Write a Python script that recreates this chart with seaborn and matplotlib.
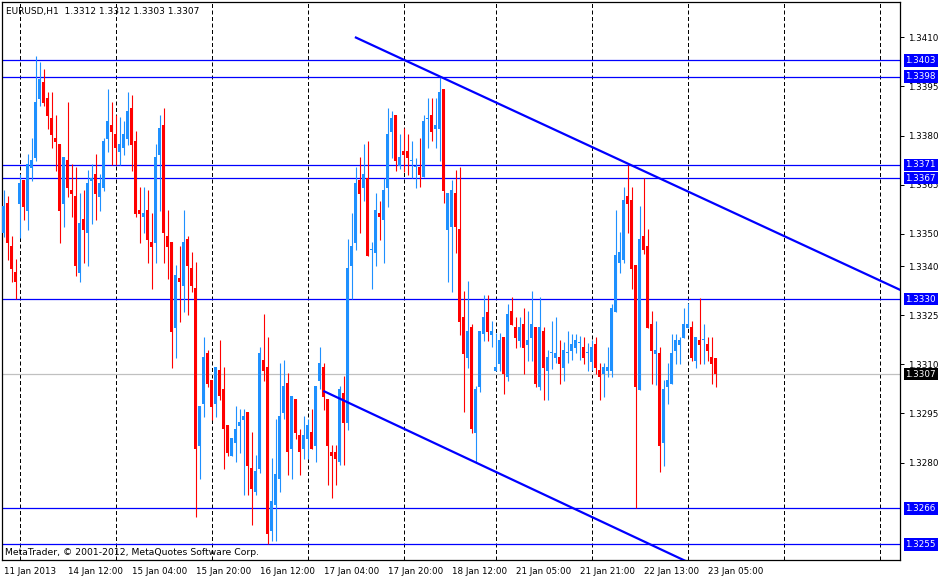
import numpy as np
import pandas as pd
import matplotlib
matplotlib.use('Agg')
import matplotlib.pyplot as plt
import seaborn as sns

# EURUSD H1 candles (bar 0 = 11 Jan 2013 evening)
open_ = [1.33503, 1.33594, 1.33462, 1.33383, 1.33591, 1.33664, 1.33569, 1.33702, 1.33731, 1.33912,
         1.33964, 1.33915, 1.33854, 1.33792, 1.33774, 1.33591, 1.33725, 1.33633, 1.33615, 1.33380,
         1.33545, 1.33502, 1.33661, 1.33682, 1.33612, 1.33640, 1.33789, 1.33832, 1.33805, 1.33750,
         1.33762, 1.33790, 1.33884, 1.33783, 1.33572, 1.33552, 1.33572, 1.33474, 1.33472, 1.33741,
         1.33832, 1.33493, 1.33474, 1.33212, 1.33364, 1.33341, 1.33484, 1.33395, 1.33334, 1.32852,
         1.32980, 1.33135, 1.33052, 1.32980, 1.33083, 1.33025, 1.32915, 1.32821, 1.32861, 1.32913,
         1.32931, 1.32954, 1.32783, 1.32711, 1.32781, 1.33114, 1.33092, 1.32592, 1.32671, 1.32751,
         1.32951, 1.33043, 1.32842, 1.32994, 1.32884, 1.32842, 1.32873, 1.32893, 1.32852, 1.33050,
         1.33092, 1.32995, 1.32832, 1.32832, 1.32803, 1.33012, 1.32922, 1.33402, 1.33472, 1.33664,
         1.33640, 1.33670, 1.33451, 1.33442, 1.33563, 1.33543, 1.33641, 1.33812, 1.33863, 1.33707,
         1.33753, 1.33753, 1.33722, 1.33704, 1.33704, 1.33673, 1.33852, 1.33863, 1.33821, 1.33821,
         1.33942, 1.33512, 1.33521, 1.33624, 1.33514, 1.33245, 1.33121, 1.33214, 1.32891, 1.33032,
         1.33192, 1.33260, 1.33190, 1.33080, 1.33101, 1.33184, 1.33062, 1.33263, 1.33214, 1.33172,
         1.33224, 1.33159, 1.33181, 1.33214, 1.33031, 1.33202, 1.33080, 1.33134, 1.33120, 1.33123,
         1.33089, 1.33134, 1.33141, 1.33150, 1.33165, 1.33153, 1.33134, 1.33107, 1.33162, 1.33083,
         1.33071, 1.33080, 1.33080, 1.33261, 1.33410, 1.33419, 1.33615, 1.33603, 1.33404, 1.33023,
         1.33493, 1.33462, 1.33224, 1.33132, 1.33135, 1.32860, 1.33031, 1.33040, 1.33141, 1.33159,
         1.33181, 1.33211, 1.33214, 1.33110, 1.33175, 1.33174, 1.33163, 1.33123, 1.33120]
high = [1.33633, 1.33615, 1.33493, 1.33422, 1.33682, 1.33664, 1.33744, 1.33792, 1.34043, 1.34025,
        1.34003, 1.33933, 1.33933, 1.33863, 1.33774, 1.33734, 1.33903, 1.33713, 1.33704, 1.33624,
        1.33633, 1.33695, 1.33713, 1.33744, 1.33682, 1.33792, 1.33942, 1.33903, 1.33863, 1.33857,
        1.33844, 1.33933, 1.33924, 1.33814, 1.33643, 1.33643, 1.33633, 1.33563, 1.33775, 1.33863,
        1.33884, 1.33572, 1.33474, 1.33404, 1.33462, 1.33572, 1.33493, 1.33444, 1.33413, 1.32973,
        1.33184, 1.33144, 1.33052, 1.33092, 1.33175, 1.33092, 1.32915, 1.32875, 1.32973, 1.32964,
        1.32964, 1.32954, 1.32893, 1.32823, 1.33153, 1.33254, 1.33184, 1.32814, 1.32933, 1.33104,
        1.33114, 1.33074, 1.33003, 1.32994, 1.32903, 1.32942, 1.32934, 1.32964, 1.33034, 1.33153,
        1.33104, 1.32995, 1.32854, 1.32854, 1.33034, 1.33065, 1.33484, 1.33563, 1.33704, 1.33734,
        1.33774, 1.33783, 1.33475, 1.33624, 1.33600, 1.33670, 1.33884, 1.33875, 1.33863, 1.33805,
        1.33823, 1.33805, 1.33783, 1.33730, 1.33792, 1.33863, 1.33915, 1.33915, 1.33915, 1.33982,
        1.33942, 1.33624, 1.33664, 1.33695, 1.33704, 1.33323, 1.33355, 1.33225, 1.33034, 1.33202,
        1.33312, 1.33312, 1.33233, 1.33196, 1.33196, 1.33184, 1.33285, 1.33306, 1.33245, 1.33245,
        1.33272, 1.33263, 1.33325, 1.33214, 1.33306, 1.33214, 1.33144, 1.33233, 1.33245, 1.33175,
        1.33169, 1.33202, 1.33193, 1.33193, 1.33187, 1.33184, 1.33166, 1.33175, 1.33184, 1.33104,
        1.33104, 1.33153, 1.33285, 1.33572, 1.33505, 1.33643, 1.33710, 1.33643, 1.33404, 1.33584,
        1.33670, 1.33514, 1.33263, 1.33233, 1.33153, 1.33052, 1.33104, 1.33193, 1.33193, 1.33184,
        1.33273, 1.33288, 1.33233, 1.33184, 1.33304, 1.33224, 1.33184, 1.33184, 1.33120]
low = [1.33491, 1.33419, 1.33352, 1.33300, 1.33488, 1.33542, 1.33511, 1.33662, 1.33722, 1.33890,
       1.33890, 1.33820, 1.33762, 1.33692, 1.33471, 1.33520, 1.33612, 1.33551, 1.33370, 1.33352,
       1.33410, 1.33401, 1.33529, 1.33542, 1.33569, 1.33630, 1.33750, 1.33710, 1.33710, 1.33710,
       1.33740, 1.33772, 1.33693, 1.33552, 1.33472, 1.33503, 1.33411, 1.33332, 1.33411, 1.33570,
       1.33411, 1.33362, 1.33090, 1.33121, 1.33231, 1.33261, 1.33252, 1.33322, 1.32632, 1.32751,
       1.32940, 1.33032, 1.32931, 1.32940, 1.32992, 1.32781, 1.32821, 1.32821, 1.32803, 1.32830,
       1.32702, 1.32702, 1.32610, 1.32702, 1.32767, 1.33050, 1.32550, 1.32561, 1.32561, 1.32711,
       1.32934, 1.32763, 1.32751, 1.32873, 1.32763, 1.32812, 1.32812, 1.32842, 1.32803, 1.33026,
       1.32961, 1.32732, 1.32692, 1.32732, 1.32791, 1.32791, 1.32900, 1.33301, 1.33451, 1.33503,
       1.33601, 1.33433, 1.33332, 1.33402, 1.33481, 1.33411, 1.33582, 1.33731, 1.33693, 1.33698,
       1.33688, 1.33679, 1.33670, 1.33641, 1.33643, 1.33673, 1.33762, 1.33784, 1.33763, 1.33723,
       1.33594, 1.33353, 1.33322, 1.33442, 1.33191, 1.32956, 1.33090, 1.32891, 1.32803, 1.33017,
       1.33173, 1.33172, 1.33153, 1.33080, 1.33080, 1.33010, 1.33049, 1.33221, 1.33150, 1.33153,
       1.33071, 1.33111, 1.33111, 1.33031, 1.33022, 1.32991, 1.32991, 1.33086, 1.33104, 1.33040,
       1.33049, 1.33104, 1.33114, 1.33135, 1.33114, 1.33101, 1.33080, 1.33083, 1.33071, 1.32991,
       1.33000, 1.33062, 1.33062, 1.33261, 1.33379, 1.33410, 1.33502, 1.33331, 1.32660, 1.33023,
       1.33438, 1.33211, 1.33040, 1.33037, 1.32771, 1.32789, 1.32979, 1.33040, 1.33101, 1.33101,
       1.33181, 1.33211, 1.33110, 1.33089, 1.33101, 1.33101, 1.33110, 1.33040, 1.33030]
close = [1.33585, 1.33472, 1.33393, 1.33352, 1.33655, 1.33581, 1.33713, 1.33724, 1.33903, 1.33973,
         1.33900, 1.33861, 1.33802, 1.33780, 1.33569, 1.33734, 1.33640, 1.33621, 1.33401, 1.33533,
         1.33511, 1.33655, 1.33670, 1.33621, 1.33655, 1.33783, 1.33844, 1.33811, 1.33762, 1.33774,
         1.33805, 1.33875, 1.33772, 1.33561, 1.33561, 1.33563, 1.33481, 1.33460, 1.33734, 1.33823,
         1.33503, 1.33460, 1.33200, 1.33373, 1.33353, 1.33474, 1.33402, 1.33341, 1.32842, 1.32973,
         1.33123, 1.33041, 1.32971, 1.33092, 1.33004, 1.32901, 1.32830, 1.32875, 1.32902, 1.32924,
         1.32942, 1.32790, 1.32720, 1.32774, 1.33135, 1.33081, 1.32582, 1.32682, 1.32765, 1.32942,
         1.33034, 1.32831, 1.33003, 1.32891, 1.32831, 1.32884, 1.32915, 1.32842, 1.33034, 1.33104,
         1.33001, 1.32852, 1.32821, 1.32812, 1.33025, 1.32922, 1.33396, 1.33462, 1.33655, 1.33622,
         1.33682, 1.33433, 1.33454, 1.33572, 1.33552, 1.33633, 1.33805, 1.33854, 1.33723, 1.33734,
         1.33741, 1.33732, 1.33725, 1.33707, 1.33679, 1.33844, 1.33855, 1.33812, 1.33832, 1.33933,
         1.33631, 1.33624, 1.33633, 1.33521, 1.33231, 1.33133, 1.33202, 1.32901, 1.33025, 1.33202,
         1.33245, 1.33199, 1.33202, 1.33092, 1.33175, 1.33071, 1.33254, 1.33221, 1.33181, 1.33214,
         1.33150, 1.33175, 1.33224, 1.33040, 1.33214, 1.33089, 1.33123, 1.33136, 1.33135, 1.33101,
         1.33144, 1.33136, 1.33162, 1.33175, 1.33167, 1.33120, 1.33136, 1.33153, 1.33089, 1.33062,
         1.33092, 1.33092, 1.33273, 1.33435, 1.33444, 1.33603, 1.33591, 1.33392, 1.33032, 1.33484,
         1.33450, 1.33211, 1.33141, 1.33144, 1.32851, 1.33025, 1.33052, 1.33135, 1.33175, 1.33175,
         1.33224, 1.33224, 1.33119, 1.33184, 1.33159, 1.33176, 1.33141, 1.33101, 1.33070]

# horizontal levels drawn on the chart
levels = [1.3403, 1.3398, 1.3371, 1.3367, 1.3330, 1.3266, 1.3255]
last_price = 1.3307

# trend lines: two anchors (bar index, price) each, extended to the right
upper_trend = [(87.8, 1.34101), (224.1, 1.33328)]
lower_trend = [(79.9, 1.33019), (169.75, 1.32503)]

# time axis
tick_bars = [0, 16, 32, 48, 64, 80, 96, 112, 128, 144, 160, 176]
tick_labels = ['11 Jan 2013', '14 Jan 12:00', '15 Jan 04:00', '15 Jan 20:00',
               '16 Jan 12:00', '17 Jan 04:00', '17 Jan 20:00', '18 Jan 12:00',
               '21 Jan 05:00', '21 Jan 21:00', '22 Jan 13:00', '23 Jan 05:00']
day_starts = [4, 28, 52, 76, 100, 123, 147, 171, 195, 219]

price_ticks = [1.3410, 1.3395, 1.3380, 1.3365, 1.3350, 1.3340,
               1.3325, 1.3310, 1.3295, 1.3280]

df = pd.DataFrame({'open': open_, 'high': high, 'low': low, 'close': close})
df['bar'] = np.arange(len(df))
df['bull'] = df['close'] > df['open']

sns.set_style('white')
plt.rcParams['font.family'] = ['DejaVu Sans']
plt.rcParams['font.size'] = 6.3

fig = plt.figure(figsize=(9.38, 5.77), dpi=100)
fig.patch.set_facecolor('white')
ax = fig.add_axes([2 / 938, 17 / 577, 898 / 938, 558 / 577])

bull_color = '#1E90FF'
bear_color = '#FF0000'
line_blue = '#0000FF'
colors = np.where(df['bull'], bull_color, bear_color)

# dotted day separators
for b in day_starts:
    ax.axvline(b, color='black', lw=0.72, ls=(0, (4, 2.5)), zorder=1)

for lvl in levels:
    ax.axhline(lvl, color=line_blue, lw=0.9, zorder=2)
ax.axhline(last_price, color='#C0C0C0', lw=0.9, zorder=2)

# candles
ax.vlines(df['bar'], df['low'], df['high'], colors=colors, lw=0.8, zorder=3)
body = np.maximum((df['close'] - df['open']).abs(), 0.00003)
ax.bar(df['bar'], body, bottom=np.minimum(df['open'], df['close']),
       width=0.72, color=colors, lw=0, zorder=4)

# trend lines
for (x1, p1), (x2, p2) in [upper_trend, lower_trend]:
    slope = (p2 - p1) / (x2 - x1)
    x_end = 260
    ax.plot([x1, x_end], [p1, p1 + slope * (x_end - x1)],
            color=line_blue, lw=1.6, zorder=5, solid_capstyle='butt')

ax.set_xlim(-0.425, 224.075)
ax.set_ylim(1.325019, 1.342083)

ax.yaxis.tick_right()
ax.set_yticks(price_ticks)
ax.set_yticklabels([f'{p:.4f}' for p in price_ticks])
ax.tick_params(axis='y', direction='out', length=3, width=0.72, pad=3,
               labelsize=6.3, colors='black')
ax.set_xticks(tick_bars)
ax.set_xticklabels(tick_labels, ha='left')
ax.tick_params(axis='x', direction='out', length=3, width=0.72, pad=2,
               labelsize=6.3, colors='black')

for s in ax.spines.values():
    s.set_color('black')
    s.set_linewidth(0.9)

# price tags on the right scale
for lvl in levels:
    ax.annotate(f'{lvl:.4f}', xy=(1, lvl), xycoords=('axes fraction', 'data'),
                xytext=(5.5, 0), textcoords='offset pixels', ha='left', va='center',
                color='white', fontsize=6.3,
                bbox=dict(boxstyle='square,pad=0.2', fc=line_blue, ec='none'),
                zorder=10, annotation_clip=False)
ax.annotate(f'{last_price:.4f}', xy=(1, last_price), xycoords=('axes fraction', 'data'),
            xytext=(5.5, 0), textcoords='offset pixels', ha='left', va='center',
            color='white', fontsize=6.3,
            bbox=dict(boxstyle='square,pad=0.2', fc='black', ec='none'),
            zorder=10, annotation_clip=False)

ax.annotate('EURUSD,H1  1.3312 1.3312 1.3303 1.3307', xy=(0, 1), xycoords='axes fraction',
            xytext=(4.5, -5), textcoords='offset pixels', ha='left', va='top',
            fontsize=6.5, color='black')
ax.annotate('MetaTrader, \u00a9 2001-2012, MetaQuotes Software Corp.', xy=(0, 0),
            xycoords='axes fraction', xytext=(3, 5), textcoords='offset pixels',
            ha='left', va='baseline', fontsize=6.7, color='black', zorder=10)

fig.savefig('out.png', dpi=100, facecolor='white')
